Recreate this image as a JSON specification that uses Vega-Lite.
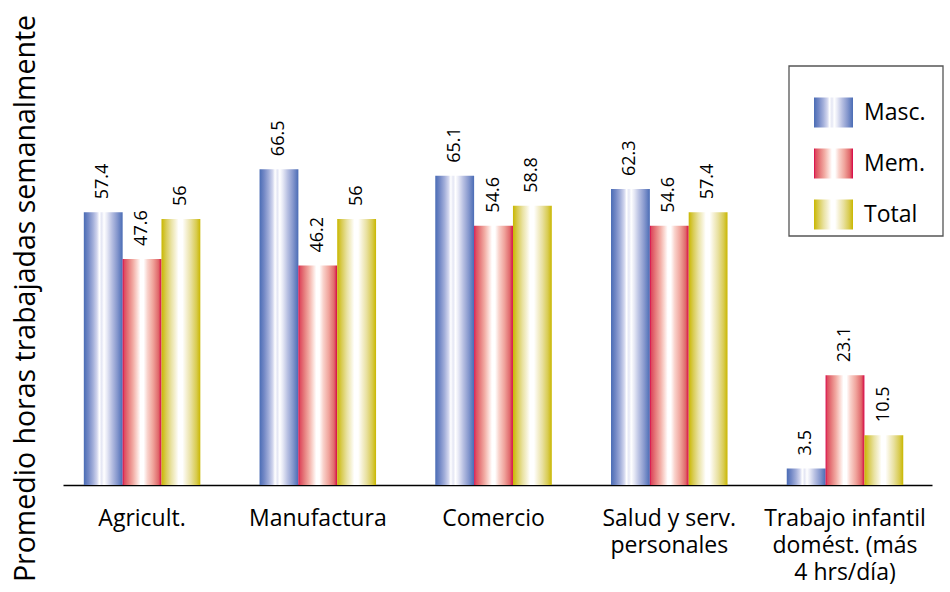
{
  "$schema": "https://vega.github.io/schema/vega-lite/v6.json",
  "width": 869,
  "height": 475,
  "autosize": {"type": "none"},
  "padding": {"left": 63, "top": 10, "right": 18, "bottom": 107},
  "background": "white",
  "config": {"view": {"stroke": null}, "font": "Open Sans"},
  "data": {
    "values": [
      {"cat": "Agricult.", "series": "Masc.", "value": 57.4},
      {"cat": "Agricult.", "series": "Mem.", "value": 47.6},
      {"cat": "Agricult.", "series": "Total", "value": 56},
      {"cat": "Manufactura", "series": "Masc.", "value": 66.5},
      {"cat": "Manufactura", "series": "Mem.", "value": 46.2},
      {"cat": "Manufactura", "series": "Total", "value": 56},
      {"cat": "Comercio", "series": "Masc.", "value": 65.1},
      {"cat": "Comercio", "series": "Mem.", "value": 54.6},
      {"cat": "Comercio", "series": "Total", "value": 58.8},
      {"cat": "Salud y serv.|personales", "series": "Masc.", "value": 62.3},
      {"cat": "Salud y serv.|personales", "series": "Mem.", "value": 54.6},
      {"cat": "Salud y serv.|personales", "series": "Total", "value": 57.4},
      {"cat": "Trabajo infantil|domést. (más|4 hrs/día)", "series": "Masc.", "value": 3.5},
      {"cat": "Trabajo infantil|domést. (más|4 hrs/día)", "series": "Mem.", "value": 23.1},
      {"cat": "Trabajo infantil|domést. (más|4 hrs/día)", "series": "Total", "value": 10.5}
    ]
  },
  "encoding": {
    "x": {
      "field": "cat",
      "type": "nominal",
      "sort": null,
      "scale": {"paddingInner": 0.337, "paddingOuter": 0.141, "align": 0.42},
      "axis": {
        "title": null,
        "labelAngle": 0,
        "labelExpr": "split(datum.label, '|')",
        "labelFontSize": 23,
        "labelColor": "black",
        "labelPadding": 22,
        "labelBaseline": "top",
        "labelLineHeight": 27,
        "labelLimit": 300,
        "labelOverlap": false,
        "ticks": false,
        "domainColor": "black",
        "domainWidth": 1.5,
        "grid": false
      }
    },
    "xOffset": {
      "field": "series",
      "type": "nominal",
      "scale": {"domain": ["Masc.", "Mem.", "Total"], "paddingInner": 0, "paddingOuter": 0}
    },
    "y": {
      "field": "value",
      "type": "quantitative",
      "scale": {"domain": [0, 100], "nice": false},
      "axis": {
        "title": "Promedio horas trabajadas semanalmente",
        "domain": false,
        "ticks": false,
        "labels": false,
        "grid": false,
        "titleFontSize": 28.5,
        "titleFontWeight": "normal",
        "titleColor": "black",
        "titleAngle": 270,
        "titleX": -38,
        "titleY": 288,
        "titleAlign": "center",
        "titleBaseline": "middle"
      }
    }
  },
  "resolve": {"scale": {"stroke": "independent"}, "legend": {"stroke": "independent"}},
  "layer": [
    {
      "transform": [{"filter": "datum.series === 'Masc.'"}],
      "mark": {"type": "bar", "strokeWidth": 0, "fill": {"gradient": "linear", "x1": 0, "y1": 0, "x2": 1, "y2": 0, "stops": [
        {"offset": 0, "color": "#4a6cb5"},
        {"offset": 0.12, "color": "#7489c6"},
        {"offset": 0.24, "color": "#a3afda"},
        {"offset": 0.34, "color": "#d2d6ee"},
        {"offset": 0.4, "color": "#ffffff"},
        {"offset": 0.46, "color": "#e4e6f4"},
        {"offset": 0.52, "color": "#ffffff"},
        {"offset": 0.6, "color": "#e6e8f5"},
        {"offset": 0.72, "color": "#b8c0e2"},
        {"offset": 0.86, "color": "#8597cd"},
        {"offset": 1, "color": "#4a6cb5"}
      ]}},
      "encoding": {
        "stroke": {
          "field": "series",
          "type": "nominal",
          "scale": {"range": ["#4a6cb5"]},
          "legend": {
            "title": null, "orient": "none", "legendX": 751, "legendY": 83,
            "symbolType": "M-1,-0.77H1V0.77H-1Z", "symbolSize": 1521, "symbolStrokeWidth": 0,
            "symbolOffset": 0, "symbolOpacity": 1, "padding": 0,
            "labelFontSize": 23, "labelColor": "black", "labelOffset": 11
          }
        }
      }
    },
    {
      "transform": [{"filter": "datum.series === 'Mem.'"}],
      "mark": {"type": "bar", "strokeWidth": 0, "fill": {"gradient": "linear", "x1": 0, "y1": 0, "x2": 1, "y2": 0, "stops": [
        {"offset": 0, "color": "#d8004a"},
        {"offset": 0.04, "color": "#de4a5e"},
        {"offset": 0.15, "color": "#e67b7c"},
        {"offset": 0.27, "color": "#f2aca4"},
        {"offset": 0.38, "color": "#fbdcd6"},
        {"offset": 0.46, "color": "#ffffff"},
        {"offset": 0.54, "color": "#ffffff"},
        {"offset": 0.64, "color": "#f9d2cb"},
        {"offset": 0.78, "color": "#f0a49c"},
        {"offset": 0.92, "color": "#e0696b"},
        {"offset": 0.96, "color": "#db3a56"},
        {"offset": 1, "color": "#d8004a"}
      ]}},
      "encoding": {
        "stroke": {
          "field": "series",
          "type": "nominal",
          "scale": {"range": ["#d8004a"]},
          "legend": {
            "title": null, "orient": "none", "legendX": 751, "legendY": 134,
            "symbolType": "M-1,-0.77H1V0.77H-1Z", "symbolSize": 1521, "symbolStrokeWidth": 0,
            "symbolOffset": 0, "symbolOpacity": 1, "padding": 0,
            "labelFontSize": 23, "labelColor": "black", "labelOffset": 11
          }
        }
      }
    },
    {
      "transform": [{"filter": "datum.series === 'Total'"}],
      "mark": {"type": "bar", "strokeWidth": 0, "fill": {"gradient": "linear", "x1": 0, "y1": 0, "x2": 1, "y2": 0, "stops": [
        {"offset": 0, "color": "#c9b700"},
        {"offset": 0.12, "color": "#d9cc55"},
        {"offset": 0.25, "color": "#e9e2a2"},
        {"offset": 0.36, "color": "#f6f2d6"},
        {"offset": 0.44, "color": "#ffffff"},
        {"offset": 0.54, "color": "#ffffff"},
        {"offset": 0.64, "color": "#f5f0d2"},
        {"offset": 0.76, "color": "#e8e09e"},
        {"offset": 0.9, "color": "#d8cb50"},
        {"offset": 1, "color": "#c9b700"}
      ]}},
      "encoding": {
        "stroke": {
          "field": "series",
          "type": "nominal",
          "scale": {"range": ["#c9b700"]},
          "legend": {
            "title": null, "orient": "none", "legendX": 751, "legendY": 185,
            "symbolType": "M-1,-0.77H1V0.77H-1Z", "symbolSize": 1521, "symbolStrokeWidth": 0,
            "symbolOffset": 0, "symbolOpacity": 1, "padding": 0,
            "labelFontSize": 23, "labelColor": "black", "labelOffset": 11
          }
        }
      }
    },
    {
      "transform": [{"filter": "datum.series === 'Masc.' && datum.cat === 'Agricult.'"}],
      "mark": {"type": "bar", "opacity": 0, "fill": "transparent"},
      "encoding": {
        "stroke": {
          "field": "series",
          "type": "nominal",
          "scale": {"range": ["#555555"]},
          "legend": {
            "title": null, "orient": "none", "legendX": 725, "legendY": 63,
            "symbolType": "M-1,-1.104H1V1.104H-1Z", "symbolSize": 23716, "symbolStrokeWidth": 1.3,
            "symbolOffset": 0, "symbolOpacity": 1, "padding": 0,
            "labelExpr": "''", "labelFontSize": 1, "labelOffset": 0
          }
        }
      }
    },
    {
      "mark": {"type": "text", "angle": 270, "align": "left", "baseline": "middle", "dx": 13, "fontSize": 18, "color": "black"},
      "encoding": {"text": {"field": "value", "type": "nominal"}}
    }
  ]
}
